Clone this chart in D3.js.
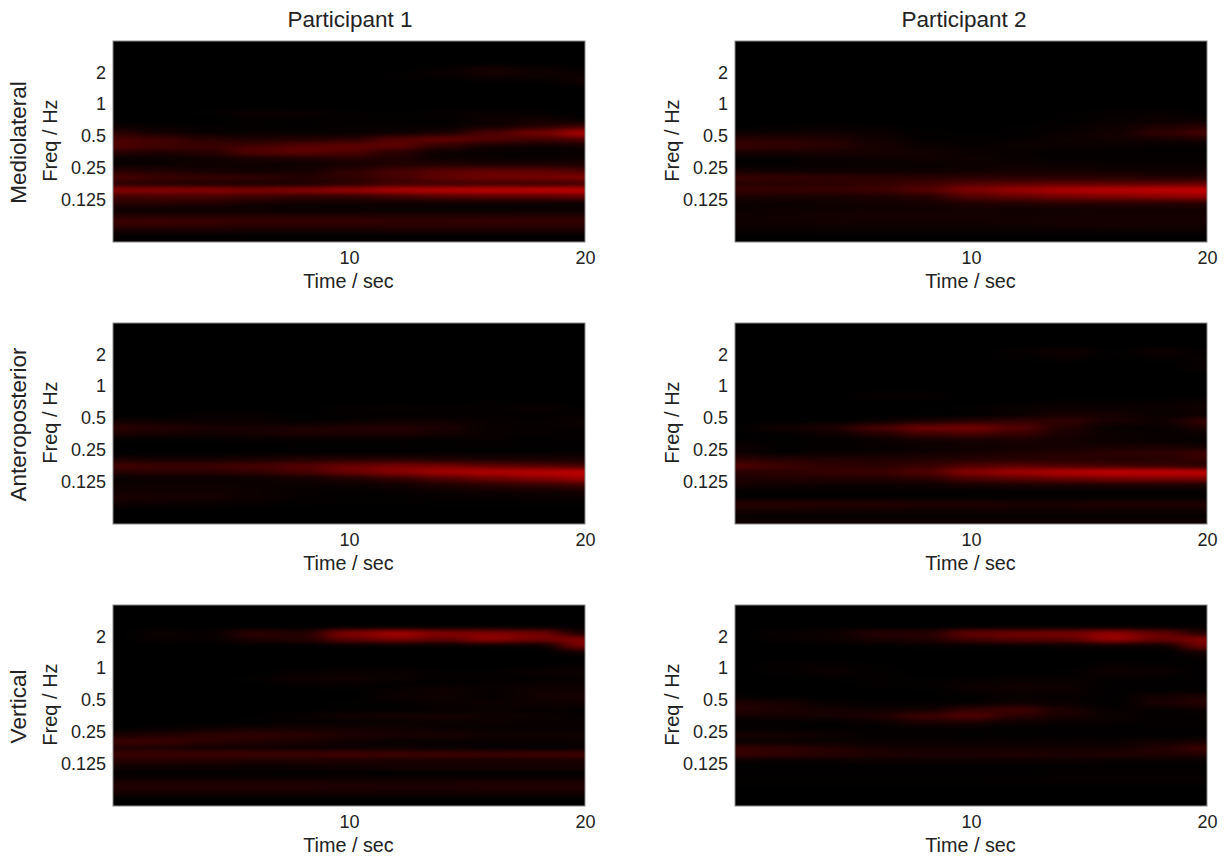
<!DOCTYPE html>
<html>
<head>
<meta charset="utf-8">
<script src="https://cdn.jsdelivr.net/npm/d3@7"></script>
<style>
  html, body { margin: 0; padding: 0; background: #fff; }
  text { font-family: "Liberation Sans", Arial, sans-serif; fill: #222; }
  .domain { display: none; }
</style>
</head>
<body>
<svg id="chart" width="1228" height="856"></svg>
<script>
const participants = ["Participant 1", "Participant 2"];
const directions = ["Mediolateral", "Anteroposterior", "Vertical"];
const freqTicks = [2, 1, 0.5, 0.25, 0.125];
const timeTicks = [10, 20];

// time of each column, sec
const times = [0, 2, 4, 6, 8, 10, 12, 14, 16, 18, 20];
// log-spaced centre frequency of each row, top row first, Hz
const rowFreqs = d3.range(32).map(i => 4 * Math.pow(2, -(i + 0.5) / 5));

// power, 0-100, one row per frequency
const p1Medio = [
  [0,0,0,0,0,0,0,0,0,0,0],[0,0,0,0,0,0,0,0,0,0,0],[0,0,0,0,0,0,0,0,0,0,0],[0,0,0,0,0,0,0,0,0,0,0],
  [0,0,0,0,0,0,0,3,10,6,2],[0,0,0,0,0,0,2,4,9,7,7],[0,0,0,0,0,0,0,0,1,1,7],[0,0,0,0,0,0,0,0,0,0,0],
  [0,0,0,0,0,0,0,0,0,0,0],[0,0,0,0,0,0,0,0,0,0,0],[0,0,0,0,0,0,0,0,0,0,0],[0,0,2,6,5,2,1,3,5,3,1],
  [0,0,0,1,1,2,2,1,6,8,4],[5,3,2,2,1,3,3,3,8,18,30],[20,10,4,4,4,4,5,12,36,58,88],[36,30,20,14,16,20,40,50,42,32,38],
  [40,34,28,32,42,46,48,25,12,8,10],[20,16,20,42,46,40,20,5,3,2,2],[5,5,8,12,15,18,15,6,4,4,5],[4,5,6,6,6,10,15,16,15,15,14],
  [20,16,10,8,10,22,34,44,48,46,38],[36,30,28,24,18,24,34,48,56,60,66],[20,16,14,12,12,18,28,28,28,26,28],[70,70,70,64,70,80,90,96,98,102,106],
  [30,34,34,30,24,22,30,38,42,42,46],[20,20,18,12,8,8,8,6,6,6,6],[5,4,4,4,3,3,3,3,3,3,3],[16,16,16,16,16,16,15,15,15,16,16],
  [30,30,28,26,26,26,24,24,26,26,26],[16,16,16,14,14,14,16,16,16,16,16],[2,2,2,2,2,2,2,2,2,2,2],[3,3,3,3,3,3,3,3,3,3,3]
];
const p2Medio = [
  [0,0,0,0,0,0,0,0,0,0,0],[0,0,0,0,0,0,0,0,0,0,0],[0,0,0,0,0,0,0,0,0,0,0],[0,0,0,0,0,0,0,0,0,0,0],
  [0,0,0,0,0,0,0,0,0,0,0],[0,0,0,0,0,0,0,0,0,0,0],[0,0,0,0,0,0,0,0,0,0,0],[0,0,0,0,0,0,0,0,0,0,0],
  [0,0,0,0,0,0,0,0,0,0,0],[0,0,0,0,0,0,0,0,0,0,0],[0,0,0,0,0,0,0,0,0,0,0],[0,0,0,0,0,0,0,1,3,4,1],
  [0,0,0,0,0,0,0,1,3,5,5],[0,2,3,2,0,0,1,3,6,14,20],[6,6,7,5,2,1,1,4,8,24,34],[20,18,16,8,2,2,3,6,8,10,14],
  [28,26,20,12,5,3,5,5,4,3,3],[12,12,12,11,8,5,3,2,2,2,2],[3,3,5,7,8,7,4,2,2,2,2],[2,2,3,4,4,6,6,5,4,4,4],
  [10,8,6,6,6,8,10,10,9,8,8],[28,26,24,22,20,20,20,20,18,16,16],[18,18,20,24,30,40,44,46,46,46,48],[26,26,26,30,42,64,78,88,94,98,106],
  [14,12,12,14,18,40,48,56,62,66,72],[6,5,6,8,10,16,18,20,20,20,20],[5,6,7,8,8,8,7,7,7,7,7],[7,8,9,10,10,10,9,9,10,10,10],
  [7,7,8,8,8,8,8,10,10,9,9],[5,5,6,6,6,6,6,7,8,8,8],[1,1,1,1,1,1,1,1,1,1,1],[0,0,0,0,0,0,0,0,0,0,0]
];
const p1Antero = [
  [0,0,0,0,0,0,0,0,0,0,0],[0,0,0,0,0,0,0,0,0,0,0],[0,0,0,0,0,0,0,0,0,0,0],[0,0,0,0,0,0,0,0,0,0,0],
  [0,0,0,0,0,0,0,0,0,0,0],[0,0,0,0,0,0,0,0,0,0,0],[0,0,0,0,0,0,0,0,0,0,0],[0,0,0,0,0,0,0,0,0,0,0],
  [0,0,0,0,0,0,0,0,0,0,0],[0,0,0,0,0,0,0,0,0,0,0],[0,0,0,0,0,0,0,0,0,0,0],[0,0,0,0,0,0,0,0,0,0,0],
  [0,0,0,0,0,0,0,0,1,1,0],[0,0,0,0,0,3,4,3,3,5,1],[0,0,3,3,1,1,2,2,2,2,2],[8,6,4,4,2,4,6,6,4,3,5],
  [22,18,14,12,14,16,18,14,4,3,3],[12,10,8,10,14,14,14,9,4,3,2],[1,1,1,2,2,2,2,2,3,1,1],[0,0,0,0,1,1,1,1,1,1,1],
  [0,0,0,1,2,2,3,3,3,3,4],[12,10,10,12,16,18,18,14,12,12,12],[34,30,30,34,42,52,58,56,46,40,32],[18,20,20,24,34,52,68,82,90,94,98],
  [3,4,4,5,8,14,24,38,52,64,78],[6,6,6,5,5,5,8,14,20,24,30],[8,8,8,6,3,2,3,5,7,9,10],[14,11,10,6,3,2,2,3,3,4,4],
  [6,5,4,2,1,1,1,1,1,1,1],[0,0,0,0,0,0,0,0,0,0,0],[0,0,0,0,0,0,0,0,0,0,0],[0,0,0,0,0,0,0,0,0,0,0]
];
const p2Antero = [
  [0,0,0,0,0,0,0,0,0,0,0],[0,0,0,0,0,0,0,0,0,0,0],[0,0,0,0,0,0,0,0,0,0,0],[0,0,0,0,0,0,0,0,0,0,0],
  [0,0,0,0,0,0,3,8,1,6,2],[0,0,0,0,0,0,2,4,1,3,3],[0,0,0,0,0,0,0,0,0,0,4],[0,0,0,0,0,0,0,0,0,0,3],
  [0,0,0,0,0,0,0,0,0,0,0],[0,0,0,0,0,0,0,0,0,0,0],[0,0,0,0,0,0,0,0,0,0,0],[0,0,0,4,4,0,0,0,0,0,0],
  [0,0,0,0,0,0,1,2,2,3,5],[0,0,0,0,0,2,5,6,5,5,8],[0,0,0,0,0,0,4,12,10,4,5],[0,0,0,4,12,18,24,24,12,8,26],
  [2,8,15,36,56,60,42,16,3,3,14],[0,2,5,16,30,34,26,12,6,4,4],[1,1,2,4,8,10,12,10,5,4,3],[6,2,2,3,5,7,9,10,12,12,8],
  [6,3,4,5,8,10,14,16,20,22,30],[22,18,16,16,16,18,20,20,18,18,26],[40,30,22,20,26,38,42,36,30,26,16],[18,20,26,28,40,68,82,92,100,104,104],
  [14,16,16,16,20,36,44,52,58,60,62],[10,8,6,6,6,10,12,12,12,12,12],[2,2,2,2,2,2,2,2,2,2,2],[2,2,2,2,2,2,2,2,2,2,2],
  [20,20,19,18,16,16,14,14,16,16,16],[10,10,9,8,8,8,8,8,8,8,8],[3,2,2,2,2,2,2,2,2,2,2],[10,10,9,9,9,9,9,9,9,9,9]
];
const p1Vert = [
  [0,0,0,0,0,0,0,0,0,0,0],[0,0,0,0,0,0,0,0,0,0,0],[0,0,0,0,0,0,0,0,0,0,0],[0,0,0,0,0,0,0,0,0,0,2],
  [0,5,4,22,16,66,84,66,64,58,10],[0,4,3,14,18,46,60,48,72,58,66],[0,0,0,0,0,0,0,0,2,2,58],[0,0,0,0,0,0,0,0,0,0,8],
  [0,0,0,0,0,0,0,0,0,0,0],[0,0,0,0,0,0,0,0,0,0,2],[0,0,0,0,2,4,4,2,2,5,6],[0,0,0,2,7,8,5,2,2,2,4],
  [0,0,0,1,3,3,2,2,3,4,4],[0,0,0,0,0,1,4,8,4,8,8],[0,0,0,0,0,0,5,6,2,8,10],[0,0,0,0,0,2,2,5,6,6,8],
  [0,0,0,0,0,1,1,2,3,3,2],[0,0,0,1,4,8,10,10,8,6,3],[0,0,0,1,2,3,4,5,5,4,4],[0,3,6,10,10,10,8,5,4,4,4],
  [12,16,22,24,20,14,12,12,8,8,8],[30,30,22,16,13,8,4,4,4,4,5],[14,12,8,8,6,5,6,4,2,2,2],[30,30,30,32,32,34,32,32,30,32,34],
  [18,18,16,14,14,14,12,12,12,12,12],[8,6,6,5,6,8,10,10,10,10,10],[1,1,1,1,1,1,1,1,1,1,1],[8,8,8,8,8,8,8,8,8,8,8],
  [16,16,16,16,16,15,15,15,16,16,16],[11,11,11,11,11,11,10,10,11,11,11],[0,0,0,0,0,0,0,0,0,0,0],[0,0,0,0,0,0,0,0,0,0,0]
];
const p2Vert = [
  [0,0,0,0,0,0,0,0,0,0,0],[0,0,0,0,0,0,0,0,0,0,0],[0,0,0,0,0,0,0,0,0,0,0],[0,0,0,0,0,0,0,0,0,0,2],
  [0,4,6,18,18,50,56,58,72,50,15],[0,3,5,12,16,34,44,46,76,54,66],[0,0,0,1,2,2,2,3,4,4,56],[0,0,0,0,0,0,0,0,0,0,10],
  [0,0,0,0,0,0,0,0,0,0,3],[0,3,3,1,0,0,0,0,3,2,1],[0,2,5,2,0,0,0,1,7,5,1],[0,1,2,2,1,1,3,3,3,2,1],
  [0,0,0,2,2,5,7,6,1,1,1],[0,0,0,0,1,4,6,6,1,1,1],[2,1,0,0,0,2,4,3,1,10,14],[14,12,4,2,1,2,6,4,1,12,20],
  [18,14,10,6,8,24,32,14,3,3,5],[8,10,10,16,30,40,20,12,5,2,2],[1,1,2,4,14,14,6,4,4,2,2],[2,2,2,2,2,2,2,1,1,1,1],
  [12,10,6,2,2,1,1,1,1,1,1],[3,4,4,4,4,4,5,4,5,8,10],[26,22,16,10,8,8,8,8,8,16,30],[28,24,20,16,14,14,16,14,16,16,16],
  [4,4,4,6,6,6,6,6,4,4,4],[1,1,1,1,1,1,1,1,1,1,1],[1,1,1,1,1,1,1,2,2,2,2],[2,2,2,2,2,2,3,4,4,4,4],
  [1,1,1,1,1,1,1,1,1,1,1],[0,0,0,0,0,0,0,0,0,0,0],[0,0,0,0,0,0,0,0,0,0,0],[0,0,0,0,0,0,0,0,0,0,0]
];
const panelData = [[p1Medio, p2Medio], [p1Antero, p2Antero], [p1Vert, p2Vert]];

const svg = d3.select("#chart");
const colLeft = [113, 735];
const rowTop = [41, 323, 605];
const width = 472;
const height = 201;

const color = d3.scaleLinear().domain([0, 100]).range(["#000000", "#d20000"]).clamp(true);

const x = d3.scaleLinear().domain([0, 20]).range([0, width]);
const y = d3.scaleLog().base(2).domain([0.05, 3.95]).range([height, 0]);

const defs = svg.append("defs");
defs.append("clipPath").attr("id", "plot-clip")
    .append("rect").attr("width", width).attr("height", height);
const blur = defs.append("filter").attr("id", "smooth")
    .attr("filterUnits", "userSpaceOnUse")
    .attr("x", -60).attr("y", -30)
    .attr("width", width + 120).attr("height", height + 60)
    .attr("color-interpolation-filters", "sRGB");
blur.append("feGaussianBlur").attr("stdDeviation", "12 2.4");

const halfCol = (times[1] - times[0]) / 2;
const rowStep = Math.pow(2, 1 / 10);

function drawPanel(values, col, row) {
    const g = svg.append("g")
        .attr("transform", `translate(${colLeft[col]},${rowTop[row]})`);

    g.append("rect").attr("width", width).attr("height", height).attr("fill", "#000");

    const cells = g.append("g").attr("clip-path", "url(#plot-clip)")
        .append("g").attr("filter", "url(#smooth)");

    values.forEach((rowValues, r) => {
        cells.selectAll(null)
            .data(rowValues)
            .join("rect")
            .attr("x", (d, i) => x(times[i] - halfCol))
            .attr("width", x(times[0] + 2 * halfCol) - x(times[0]))
            .attr("y", y(rowFreqs[r] * rowStep))
            .attr("height", y(rowFreqs[r] / rowStep) - y(rowFreqs[r] * rowStep))
            .attr("fill", d => color(d));
    });

    g.append("rect").attr("width", width).attr("height", height)
        .attr("fill", "none").attr("stroke", "#8a8a8a").attr("stroke-width", 1);

    // Axes, labels only
    g.append("g")
        .call(d3.axisLeft(y).tickValues(freqTicks).tickSize(0).tickPadding(7).tickFormat(d => String(d)))
        .style("font-size", "18px")
        .style("font-family", "Liberation Sans");

    g.append("g")
        .attr("transform", `translate(0,${height})`)
        .call(d3.axisBottom(x).tickValues(timeTicks).tickSize(0).tickPadding(9))
        .style("font-size", "18px")
        .style("font-family", "Liberation Sans");

    g.append("text")
        .attr("x", width / 2 - 0.5)
        .attr("y", height + 46)
        .attr("text-anchor", "middle")
        .style("font-size", "19.8px")
        .text("Time / sec");

    g.append("text")
        .attr("transform", `translate(-56,${height / 2 - 1}) rotate(-90)`)
        .attr("text-anchor", "middle")
        .style("font-size", "20px")
        .text("Freq / Hz");
}

panelData.forEach((rowPanels, row) => {
    rowPanels.forEach((values, col) => drawPanel(values, col, row));
});

participants.forEach((name, col) => {
    svg.append("text")
        .attr("x", col ? 964 : 350)
        .attr("y", 27)
        .attr("text-anchor", "middle")
        .style("font-size", "22.5px")
        .text(name);
});

directions.forEach((name, row) => {
    svg.append("text")
        .attr("transform", `translate(26,${rowTop[row] + height / 2 + 1}) rotate(-90)`)
        .attr("text-anchor", "middle")
        .style("font-size", "22.5px")
        .text(name);
});
</script>
</body>
</html>
